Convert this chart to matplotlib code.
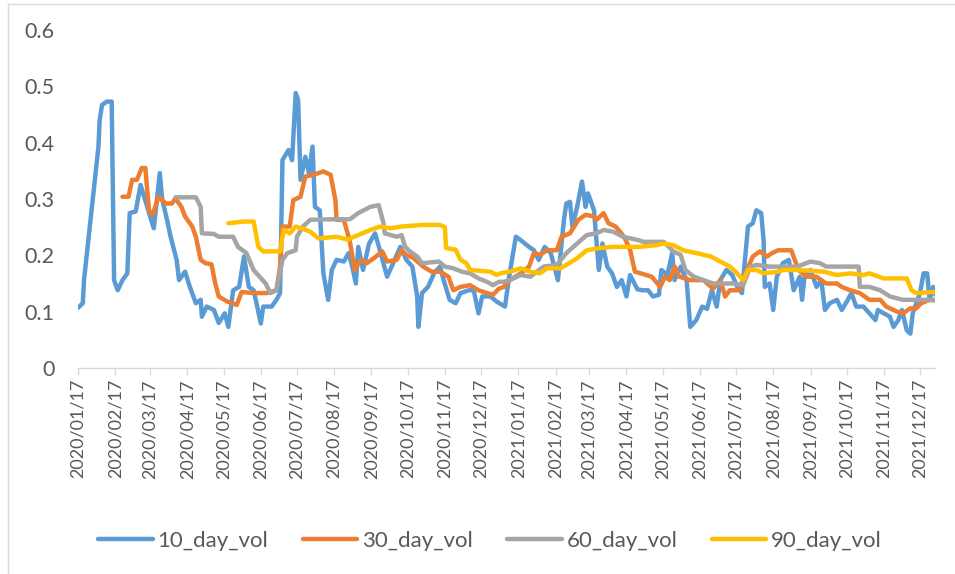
import pandas as pd
import matplotlib
matplotlib.use('Agg')
import matplotlib.pyplot as plt
import matplotlib.dates as mdates
from matplotlib.lines import Line2D

# (days since 2020/01/17, volatility)
vol10 = [(0, 0.107), (4, 0.115), (5, 0.156), (17, 0.393), (18, 0.44), (20, 0.467), (24, 0.473),
         (28, 0.473), (30, 0.156), (33, 0.138), (37, 0.156), (41, 0.168), (43, 0.275), (48, 0.278),
         (52, 0.325), (57, 0.29), (63, 0.248), (68, 0.346), (70, 0.30), (74, 0.263), (77, 0.233),
         (82, 0.192), (84, 0.156), (89, 0.171), (93, 0.144), (98, 0.115), (102, 0.121), (103, 0.091),
         (107, 0.109), (113, 0.103), (117, 0.08), (122, 0.097), (125, 0.073), (129, 0.138),
         (134, 0.144), (138, 0.198), (142, 0.144), (146, 0.138), (149, 0.109), (152, 0.079),
         (154, 0.109), (161, 0.109), (165, 0.121), (168, 0.133), (170, 0.369), (175, 0.387),
         (178, 0.369), (181, 0.488), (183, 0.476), (185, 0.334), (189, 0.375), (192, 0.346),
         (195, 0.393), (197, 0.286), (201, 0.28), (204, 0.168), (208, 0.121), (211, 0.174),
         (215, 0.192), (221, 0.189), (225, 0.204), (228, 0.18), (231, 0.15), (233, 0.215),
         (237, 0.174), (242, 0.221), (247, 0.239), (251, 0.209), (257, 0.162), (268, 0.215),
         (273, 0.192), (278, 0.18), (282, 0.127), (283, 0.073), (286, 0.133), (291, 0.144),
         (296, 0.168), (301, 0.18), (304, 0.156), (309, 0.121), (314, 0.115), (318, 0.133),
         (325, 0.138), (329, 0.138), (333, 0.097), (336, 0.127), (343, 0.127), (348, 0.118),
         (355, 0.109), (358, 0.156), (364, 0.233), (368, 0.227), (375, 0.215), (379, 0.209),
         (383, 0.192), (388, 0.215), (393, 0.204), (399, 0.156), (404, 0.263), (406, 0.292),
         (409, 0.295), (411, 0.251), (415, 0.286), (419, 0.331), (422, 0.286), (424, 0.31),
         (429, 0.28), (431, 0.227), (433, 0.174), (436, 0.221), (440, 0.18), (444, 0.168),
         (448, 0.144), (452, 0.156), (456, 0.127), (459, 0.165), (465, 0.14), (469, 0.138),
         (474, 0.138), (478, 0.127), (483, 0.13), (485, 0.174), (490, 0.165), (494, 0.204),
         (496, 0.156), (501, 0.18), (506, 0.156), (509, 0.073), (514, 0.085), (519, 0.109),
         (523, 0.105), (527, 0.138), (531, 0.109), (534, 0.156), (539, 0.174), (544, 0.165),
         (548, 0.144), (552, 0.133), (555, 0.204), (557, 0.251), (561, 0.257), (564, 0.28),
         (568, 0.275), (570, 0.227), (571, 0.144), (575, 0.15), (578, 0.103), (581, 0.162),
         (586, 0.186), (591, 0.192), (595, 0.138), (600, 0.162), (602, 0.121), (604, 0.162),
         (609, 0.174), (614, 0.144), (618, 0.156), (621, 0.103), (625, 0.115), (631, 0.121),
         (635, 0.103), (640, 0.121), (643, 0.133), (647, 0.109), (653, 0.109), (658, 0.097),
         (663, 0.085), (665, 0.103), (670, 0.097), (675, 0.091), (678, 0.073), (682, 0.085),
         (685, 0.103), (689, 0.067), (692, 0.061), (694, 0.097), (700, 0.133), (703, 0.168),
         (706, 0.168), (708, 0.121), (711, 0.144), (713, 0.13)]

vol30 = [(37, 0.304), (42, 0.304), (45, 0.334), (49, 0.334), (53, 0.355), (56, 0.355), (59, 0.28),
         (62, 0.272), (67, 0.304), (73, 0.292), (78, 0.292), (81, 0.301), (86, 0.286), (89, 0.269),
         (95, 0.251), (98, 0.233), (102, 0.192), (106, 0.186), (111, 0.184), (114, 0.151),
         (117, 0.127), (124, 0.118), (132, 0.112), (136, 0.135), (146, 0.133), (157, 0.133),
         (165, 0.138), (168, 0.18), (170, 0.251), (176, 0.251), (179, 0.298), (185, 0.304),
         (189, 0.34), (196, 0.343), (204, 0.349), (210, 0.343), (214, 0.298), (215, 0.263),
         (221, 0.263), (226, 0.225), (230, 0.174), (235, 0.192), (240, 0.186), (246, 0.195),
         (253, 0.207), (257, 0.189), (265, 0.192), (269, 0.209), (273, 0.201), (279, 0.195),
         (287, 0.18), (294, 0.171), (301, 0.171), (308, 0.162), (312, 0.138), (318, 0.144),
         (326, 0.147), (333, 0.138), (340, 0.133), (345, 0.13), (350, 0.141), (354, 0.144),
         (359, 0.156), (368, 0.168), (375, 0.18), (379, 0.204), (384, 0.201), (390, 0.209),
         (398, 0.209), (402, 0.233), (409, 0.239), (416, 0.263), (422, 0.272), (429, 0.269),
         (431, 0.263), (437, 0.275), (441, 0.257), (447, 0.251), (454, 0.233), (459, 0.21),
         (463, 0.171), (468, 0.168), (477, 0.162), (484, 0.144), (488, 0.162), (492, 0.156),
         (496, 0.18), (500, 0.162), (509, 0.156), (520, 0.156), (528, 0.141), (534, 0.156),
         (538, 0.127), (542, 0.138), (550, 0.138), (555, 0.168), (561, 0.198), (567, 0.207),
         (573, 0.198), (577, 0.204), (582, 0.209), (586, 0.209), (593, 0.209), (599, 0.174),
         (606, 0.162), (614, 0.162), (622, 0.15), (631, 0.15), (635, 0.144), (642, 0.138),
         (650, 0.133), (658, 0.121), (667, 0.121), (672, 0.109), (681, 0.1), (686, 0.097),
         (692, 0.106), (697, 0.106), (701, 0.115), (708, 0.121), (712, 0.12)]

vol60 = [(81, 0.303), (98, 0.303), (102, 0.286), (103, 0.239), (113, 0.238), (117, 0.233),
         (121, 0.233), (129, 0.233), (133, 0.215), (140, 0.204), (146, 0.174), (151, 0.162),
         (156, 0.15), (160, 0.133), (165, 0.138), (170, 0.192), (174, 0.204), (181, 0.209),
         (182, 0.233), (187, 0.251), (193, 0.263), (210, 0.264), (226, 0.264), (233, 0.275),
         (243, 0.286), (250, 0.289), (254, 0.257), (255, 0.239), (265, 0.233), (269, 0.236),
         (272, 0.215), (276, 0.207), (282, 0.198), (286, 0.186), (300, 0.189), (305, 0.18),
         (312, 0.177), (319, 0.171), (326, 0.168), (333, 0.159), (340, 0.153), (345, 0.147),
         (350, 0.153), (354, 0.153), (359, 0.156), (368, 0.165), (376, 0.162), (387, 0.18),
         (398, 0.183), (406, 0.204), (415, 0.221), (423, 0.236), (431, 0.239), (437, 0.245),
         (445, 0.242), (453, 0.233), (466, 0.227), (470, 0.224), (487, 0.224), (495, 0.207),
         (501, 0.201), (505, 0.174), (512, 0.162), (520, 0.156), (528, 0.15), (545, 0.15),
         (553, 0.147), (559, 0.18), (564, 0.183), (575, 0.18), (598, 0.18), (609, 0.189),
         (617, 0.186), (622, 0.18), (649, 0.18), (650, 0.144), (658, 0.144), (667, 0.138),
         (675, 0.127), (686, 0.121), (712, 0.121)]

vol90 = [(125, 0.257), (138, 0.26), (146, 0.26), (150, 0.215), (154, 0.207), (168, 0.207),
         (171, 0.245), (176, 0.239), (181, 0.251), (186, 0.248), (193, 0.242), (200, 0.23),
         (215, 0.233), (224, 0.228), (233, 0.236), (243, 0.245), (251, 0.251), (260, 0.248),
         (268, 0.251), (287, 0.254), (301, 0.254), (305, 0.25), (306, 0.213), (314, 0.21),
         (318, 0.192), (323, 0.186), (326, 0.174), (343, 0.171), (348, 0.165), (351, 0.168),
         (359, 0.171), (368, 0.177), (376, 0.171), (384, 0.168), (390, 0.177), (401, 0.177),
         (406, 0.183), (415, 0.195), (423, 0.209), (434, 0.213), (445, 0.215), (466, 0.215),
         (481, 0.218), (487, 0.221), (495, 0.218), (503, 0.209), (514, 0.204), (526, 0.198),
         (534, 0.189), (542, 0.18), (548, 0.168), (553, 0.156), (557, 0.174), (564, 0.174),
         (570, 0.168), (582, 0.171), (586, 0.174), (598, 0.174), (620, 0.171), (631, 0.165),
         (642, 0.168), (653, 0.165), (658, 0.168), (670, 0.159), (689, 0.159), (693, 0.138),
         (697, 0.133), (712, 0.135)]

start_date = pd.Timestamp('2020-01-17')
end_date = pd.Timestamp('2021-12-29 12:00')

series = [
    ('10_day_vol', vol10, '#5B9BD5'),
    ('30_day_vol', vol30, '#ED7D31'),
    ('60_day_vol', vol60, '#A5A5A5'),
    ('90_day_vol', vol90, '#FFC000'),
]

plt.rcParams['font.family'] = ['Lato', 'DejaVu Sans']
text_color = '#595959'

fig = plt.figure(figsize=(9.55, 5.74), dpi=100)
ax = fig.add_axes([78 / 955, 1 - 368 / 574, (935 - 78) / 955, (368 - 30) / 574])

for name, data, color in series:
    df = pd.DataFrame(data, columns=['day', 'vol'])
    df['date'] = start_date + pd.to_timedelta(df['day'], unit='D')
    ax.plot(df['date'], df['vol'], color=color, linewidth=3.2, label=name,
            solid_joinstyle='round', solid_capstyle='round')

ax.set_xlim(start_date, end_date)
ax.set_ylim(0, 0.6)
ax.set_yticks([0, 0.1, 0.2, 0.3, 0.4, 0.5, 0.6])
ax.set_yticklabels(['0', '0.1', '0.2', '0.3', '0.4', '0.5', '0.6'])

ax.xaxis.set_major_locator(mdates.MonthLocator(bymonthday=17))
ax.xaxis.set_major_formatter(mdates.DateFormatter('%Y/%m/%d'))
plt.setp(ax.xaxis.get_majorticklabels(), rotation=90, ha='center', va='top')

for side in ['top', 'right', 'left']:
    ax.spines[side].set_visible(False)
ax.spines['bottom'].set_color('#D9D9D9')
ax.spines['bottom'].set_linewidth(1.0)
ax.tick_params(axis='x', colors='#D9D9D9', length=5, width=1, pad=3, labelcolor=text_color, labelsize=13)
ax.tick_params(axis='y', length=0, pad=17, labelcolor=text_color, labelsize=15.5)

ax.legend(loc='center', bbox_to_anchor=(490 / 955, 1 - 541 / 574), bbox_transform=fig.transFigure,
          ncol=4, frameon=False, fontsize=16, handlelength=2.45, columnspacing=1.55,
          handletextpad=0.22, labelcolor=text_color)

# chart border (top and left edges visible)
fig.add_artist(Line2D([8 / 955, 1], [1 - 4 / 574, 1 - 4 / 574], transform=fig.transFigure,
                      color='#D9D9D9', linewidth=1))
fig.add_artist(Line2D([8 / 955, 8 / 955], [0, 1 - 4 / 574], transform=fig.transFigure,
                      color='#D9D9D9', linewidth=1))

plt.savefig('out.png', dpi=100)
